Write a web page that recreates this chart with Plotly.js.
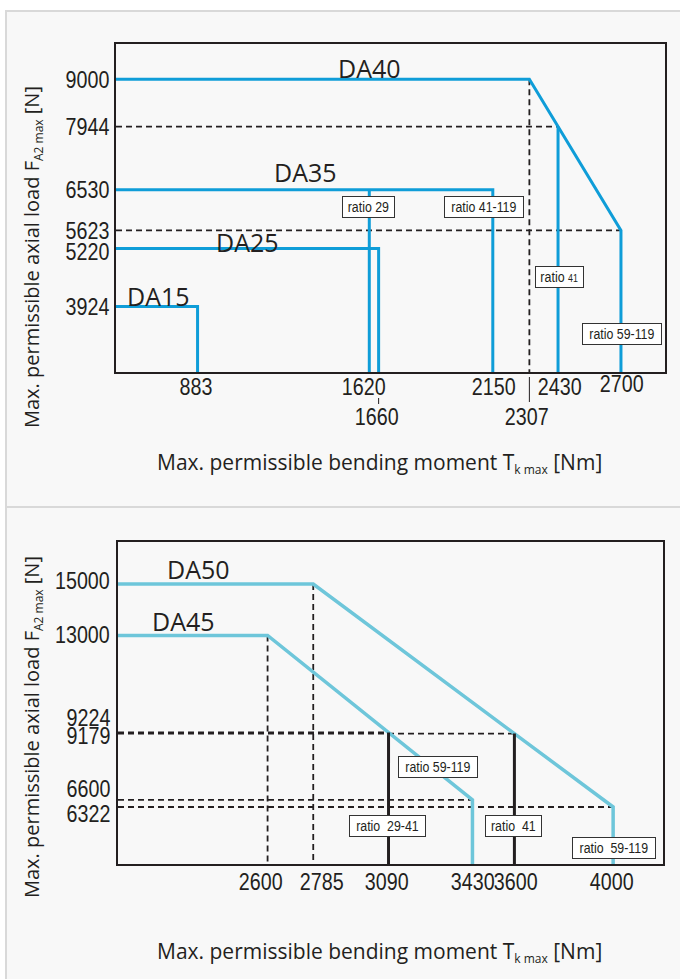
<!DOCTYPE html>
<html>
<head>
<meta charset="utf-8">
<script src="https://cdn.plot.ly/plotly-3.0.1.min.js"></script>
<style>
  html, body { margin: 0; padding: 0; background: #ffffff; }
  #chart { width: 680px; height: 979px; }
</style>
</head>
<body>
<div id="chart"></div>
<script>
// ---------------- DATA ----------------
// Upper diagram: DA15 ... DA40
const topSeries = ['DA15', 'DA25', 'DA35', 'DA40'];
const topKneeT = [[883], [1660], [2150], [2307, 2700]];      // bending moment Tk max [Nm]
const topKneeF = [[3924], [5220], [6530], [9000, 5623]];     // axial load FA2 max [N]
const topRatioT = [1620, 2430];
const topRatioF = [6530, 7944];
const topRatioLabels = ['ratio 29', 'ratio 41-119', 'ratio <span style="font-size:10px">41</span>', 'ratio 59-119'];
const topXTicks = [883, 1620, 1660, 2150, 2307, 2430, 2700];
const topYTicks = [9000, 7944, 6530, 5623, 5220, 3924];

// Lower diagram: DA45, DA50
const botSeries = ['DA45', 'DA50'];
const botKneeT = [[2600, 3430], [2785, 4000]];
const botKneeF = [[13000, 6600], [15000, 6322]];
const botRatioT = [3090, 3600];
const botRatioF = [9224, 9179];
const botRatioLabels = ['ratio 59-119', 'ratio&nbsp; 29-41', 'ratio&nbsp; 41', 'ratio&nbsp; 59-119'];
const botXTicks = [2600, 2785, 3090, 3430, 3600, 4000];
const botYTicks = [15000, 13000, 9224, 9179, 6600, 6322];

const xTitle = 'Max. permissible bending moment T<sub><span style="font-size:12px">k max</span></sub> [Nm]';
const yTitle = 'Max. permissible axial load F<sub><span style="font-size:12px">A2 max</span></sub> [N]';

// ---------------- STYLE / LAYOUT ----------------
const W = 680, H = 979;
const px = v => v / W;
const py = v => 1 - v / H;

const topXRange = [533, 2889], topYRange = [2460, 9788];
const botXRange = [1994, 4202], botYRange = [4104, 16646];

const TOP_BLUE = '#0f9dd8';
const BOT_BLUE = '#6ec6da';
const INK = '#231f20';
const DASH = '6px,4px';
const narrow = 'Liberation Sans, Arial, sans-serif';
const sans = 'Open Sans, Noto Sans, sans-serif';

const traces = [];
function line(xa, ya, x, y, color, width, dash) {
  traces.push({ type: 'scatter', mode: 'lines', xaxis: xa, yaxis: ya, x, y,
    line: { color, width, dash: dash || 'solid' }, hoverinfo: 'skip', showlegend: false });
}

// --- top: dashed guides
{
  const k = topSeries.length - 1;               // DA40
  const T = topKneeT[k], F = topKneeF[k];
  line('x', 'y', [topXRange[0], topRatioT[1]], [topRatioF[1], topRatioF[1]], INK, 1.8, DASH);
  line('x', 'y', [topXRange[0], T[T.length - 1]], [F[F.length - 1], F[F.length - 1]], INK, 1.8, DASH);
  line('x', 'y', [T[0], T[0]], [F[0], topYRange[0]], INK, 1.8, DASH);
}
// --- top: series envelopes
topSeries.forEach((name, i) => {
  const T = topKneeT[i], F = topKneeF[i];
  const x = [topXRange[0]].concat(T, [T[T.length - 1]]);
  const y = [F[0]].concat(F, [topYRange[0]]);
  line('x', 'y', x, y, TOP_BLUE, 3);
});
topRatioT.forEach((t, i) => line('x', 'y', [t, t], [topRatioF[i], topYRange[0]], TOP_BLUE, 3));

// --- bottom: dashed guides
botSeries.forEach((name, i) => {
  const T = botKneeT[i], F = botKneeF[i];
  line('x2', 'y2', [T[0], T[0]], [F[0], botYRange[0]], INK, 1.8, DASH);
  line('x2', 'y2', [botXRange[0], T[T.length - 1]], [F[F.length - 1], F[F.length - 1]], INK, 1.8, DASH);
});
botRatioT.forEach((t, i) => line('x2', 'y2', [botXRange[0], t], [botRatioF[i], botRatioF[i]], INK, 1.8, DASH));
// --- bottom: series envelopes
botSeries.forEach((name, i) => {
  const T = botKneeT[i], F = botKneeF[i];
  const x = [botXRange[0]].concat(T, [T[T.length - 1]]);
  const y = [F[0]].concat(F, [botYRange[0]]);
  line('x2', 'y2', x, y, BOT_BLUE, 3.5);
});
botRatioT.forEach((t, i) => line('x2', 'y2', [t, t], [botRatioF[i], botYRange[0]], INK, 3));

// ---------------- ANNOTATIONS ----------------
const ann = [];
const condenseInfo = [];   // per-annotation horizontal condensing (reference uses a condensed face)
function txt(o, cond) {
  ann.push(Object.assign({ showarrow: false, font: { family: narrow, size: 24, color: INK } }, o));
  condenseInfo.push(cond || null);
}

// top x tick labels
const topXShift = { 883: -2, 1620: -6, 1660: -2, 2150: 1, 2307: -3, 2430: 1, 2700: 1 };
const topXRow = { 883: 386, 1620: 386, 1660: 416, 2150: 386, 2307: 416, 2430: 386, 2700: 383 };
topXTicks.forEach(v => txt({ xref: 'x', yref: 'paper', x: v, y: py(topXRow[v]), xshift: topXShift[v],
  xanchor: 'center', yanchor: 'middle', text: String(v) }, { k: 0.82, anchor: 'center' }));
const topYShift = { 9000: 0, 7944: 0, 6530: 0, 5623: 0, 5220: -3, 3924: 0 };
topYTicks.forEach(v => txt({ xref: 'paper', yref: 'y', x: px(110.5), y: v, yshift: topYShift[v],
  xanchor: 'right', yanchor: 'middle', text: String(v) }, { k: 0.82, anchor: 'right' }));

// bottom tick labels
const botXShift = { 2600: -7, 2785: 8, 3090: -2, 3430: 0, 3600: 1, 4000: -2 };
botXTicks.forEach(v => txt({ xref: 'x2', yref: 'paper', x: v, y: py(881), xshift: botXShift[v],
  xanchor: 'center', yanchor: 'middle', text: String(v) }, { k: 0.82, anchor: 'center' }));
const botYShift = { 15000: 4, 13000: 1, 9224: 15, 9179: -2, 6600: 11, 6322: -6 };
botYTicks.forEach(v => txt({ xref: 'paper', yref: 'y2', x: px(111.5), y: v, yshift: botYShift[v],
  xanchor: 'right', yanchor: 'middle', text: String(v) }, { k: 0.82, anchor: 'right' }));

// series names
const seriesPos = { DA40: [370, 68], DA35: [305, 172], DA25: [247, 242], DA15: [158, 296], DA50: [198, 569], DA45: [183, 621] };
topSeries.concat(botSeries).forEach(n => txt({ xref: 'paper', yref: 'paper', x: px(seriesPos[n][0]), y: py(seriesPos[n][1]),
  xanchor: 'center', yanchor: 'middle', text: n, font: { family: sans, size: 25, color: INK } }));

// ratio boxes
const topRatioPos = [[368, 207], [484, 207], [559, 277], [622, 334]];
const botRatioPos = [[438, 767], [387, 826], [513, 826], [614, 848]];
function ratioBox(label, p) {
  txt({ xref: 'paper', yref: 'paper', x: px(p[0]), y: py(p[1]), xanchor: 'center', yanchor: 'middle',
    text: label, bgcolor: '#ffffff', bordercolor: '#333333', borderwidth: 1, borderpad: 2,
    font: { family: narrow, size: 14, color: INK } }, { k: 0.88, anchor: 'center' });
}
topRatioLabels.forEach((l, i) => ratioBox(l, topRatioPos[i]));
botRatioLabels.forEach((l, i) => ratioBox(l, botRatioPos[i]));

// axis titles
[[463, 257], [952, 727]].forEach(([xy, yy]) => {
  txt({ xref: 'paper', yref: 'paper', x: px(379), y: py(xy), xanchor: 'center', yanchor: 'middle',
    text: xTitle, font: { family: sans, size: 21, color: INK } });
  txt({ xref: 'paper', yref: 'paper', x: px(32), y: py(yy), xanchor: 'center', yanchor: 'middle', textangle: -90,
    text: yTitle, font: { family: sans, size: 20, color: INK } });
});

// ---------------- SHAPES (panels + leader ticks) ----------------
const shapes = [
  { type: 'rect', xref: 'paper', yref: 'paper', layer: 'below', x0: px(6), x1: 1.02, y0: -0.02, y1: py(11),
    fillcolor: '#f8f8f8', line: { color: '#d9d9d9', width: 2 } },
  { type: 'line', xref: 'paper', yref: 'paper', layer: 'below', x0: px(6), x1: 1.02, y0: py(507), y1: py(507),
    line: { color: '#d9d9d9', width: 2 } },
  { type: 'line', xref: 'x', yref: 'paper', x0: 1660, x1: 1660, y0: py(398), y1: py(404), line: { color: INK, width: 1 } },
  { type: 'line', xref: 'x', yref: 'paper', x0: 2307, x1: 2307, y0: py(377), y1: py(402), line: { color: INK, width: 1 } }
];

const axisBase = { showgrid: false, zeroline: false, showticklabels: false, ticks: '', showline: true,
  mirror: true, linecolor: INK, linewidth: 2, fixedrange: true };

const layout = {
  width: W, height: H,
  margin: { l: 0, r: 0, t: 0, b: 0 },
  paper_bgcolor: '#ffffff',
  plot_bgcolor: 'rgba(0,0,0,0)',
  showlegend: false,
  xaxis: Object.assign({}, axisBase, { domain: [px(116), px(665)], range: topXRange, anchor: 'y' }),
  yaxis: Object.assign({}, axisBase, { domain: [py(372), py(44)], range: topYRange, anchor: 'x' }),
  xaxis2: Object.assign({}, axisBase, { domain: [px(118), px(663)], range: botXRange, anchor: 'y2' }),
  yaxis2: Object.assign({}, axisBase, { domain: [py(864), py(541.7)], range: botYRange, anchor: 'x2' }),
  annotations: ann,
  shapes: shapes
};

function condense() {
  document.querySelectorAll('#chart g.annotation').forEach(g => {
    const i = +g.getAttribute('data-index');
    const info = condenseInfo[i];
    if (!info) return;
    const t = g.querySelector('text.annotation-text');
    if (!t) return;
    const b0 = t.getBBox();
    t.setAttribute('textLength', (b0.width * info.k).toFixed(2));
    t.setAttribute('lengthAdjust', 'spacingAndGlyphs');
    const b1 = t.getBBox();
    const dx = info.anchor === 'right'
      ? (b0.x + b0.width) - (b1.x + b1.width)
      : (b0.x + b0.width / 2) - (b1.x + b1.width / 2);
    const x = parseFloat(t.getAttribute('x') || '0');
    t.setAttribute('x', (x + dx).toFixed(2));
  });
}

Plotly.newPlot('chart', traces, layout, { staticPlot: true, displayModeBar: false }).then(condense);
</script>
</body>
</html>
